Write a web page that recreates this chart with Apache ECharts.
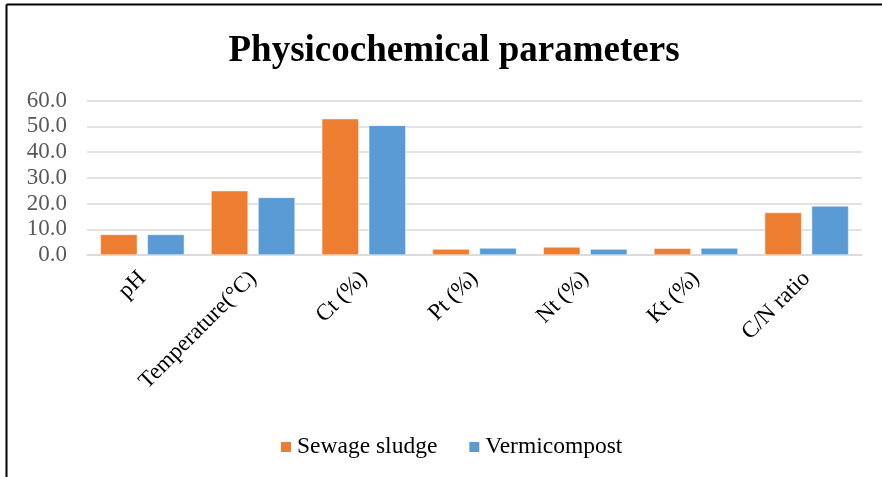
<!DOCTYPE html>
<html>
<head>
<meta charset="utf-8">
<script src="https://cdn.jsdelivr.net/npm/echarts@6/dist/echarts.min.js"></script>
<style>html,body{margin:0;padding:0;background:#fff;}#c{width:882px;height:477px;}</style>
</head>
<body>
<div id="c"></div>
<script>
const categories = ['pH', 'Temperature(°C)', 'Ct (%)', 'Pt (%)', 'Nt (%)', 'Kt (%)', 'C/N ratio'];
const sewageSludge = [8.0, 25.0, 53.0, 2.3, 3.1, 2.6, 16.5];
const vermicompost = [8.0, 22.4, 50.4, 2.7, 2.3, 2.7, 19.1];
const yTicks = [0, 10, 20, 30, 40, 50, 60];

const font = '"Liberation Serif", "Times New Roman", serif';
const chart = echarts.init(document.getElementById('c'));
chart.setOption({
  animation: false,
  backgroundColor: '#fff',
  title: {
    text: 'Physicochemical parameters',
    left: 449, top: 28, textAlign: 'center',
    textStyle: { fontFamily: font, fontWeight: 'bold', fontSize: 37, color: '#000' }
  },
  legend: {
    data: ['Sewage sludge', 'Vermicompost'],
    left: 274, top: 430,
    itemWidth: 12, itemHeight: 12, itemGap: 30,
    icon: 'rect',
    textStyle: { fontFamily: font, fontSize: 23.5, color: '#000', padding: [0, 0, 0, 0] }
  },
  grid: { left: 87, right: 20, top: 100.7, height: 154.3, containLabel: false },
  xAxis: {
    type: 'category',
    data: categories,
    axisLine: { lineStyle: { color: '#d9d9d9', width: 1.5 } },
    axisTick: { show: false },
    axisLabel: { rotate: 45, interval: 0, margin: 20, fontFamily: font, fontSize: 23, color: '#000' }
  },
  yAxis: {
    type: 'value', min: yTicks[0], max: yTicks[yTicks.length - 1], interval: 10,
    axisLine: { show: false },
    axisTick: { show: false },
    splitLine: { lineStyle: { color: '#d9d9d9', width: 1.5 } },
    axisLabel: { formatter: v => v.toFixed(1), margin: 20, fontFamily: font, fontSize: 23, color: '#595959' }
  },
  series: [
    { name: 'Sewage sludge', type: 'bar', data: sewageSludge, barWidth: 37, barGap: '27%',
      itemStyle: { color: '#ed7d31', borderColor: '#fff', borderWidth: 0.5 } },
    { name: 'Vermicompost', type: 'bar', data: vermicompost, barWidth: 37,
      itemStyle: { color: '#5b9bd5', borderColor: '#fff', borderWidth: 0.5 } }
  ],
  graphic: [
    { type: 'line', shape: { x1: 6.5, y1: 4.5, x2: 882, y2: 4.5 }, style: { stroke: '#000', lineWidth: 2 } },
    { type: 'line', shape: { x1: 6.5, y1: 4.5, x2: 6.5, y2: 477 }, style: { stroke: '#000', lineWidth: 2 } }
  ]
});
</script>
</body>
</html>
